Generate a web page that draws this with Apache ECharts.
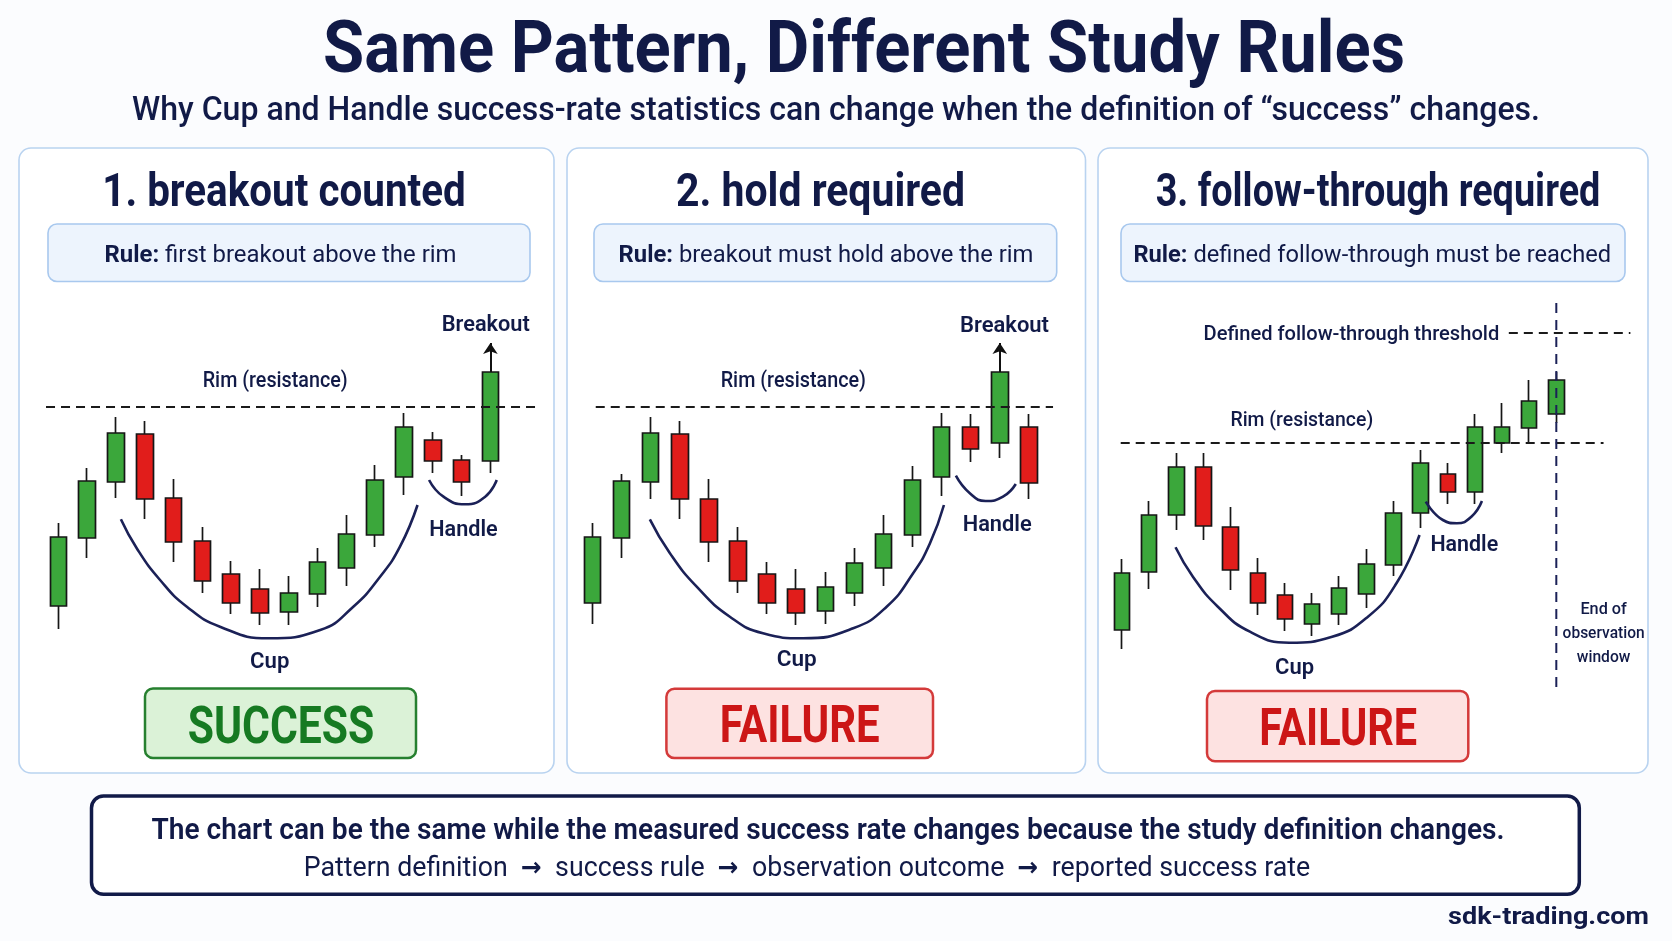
<!DOCTYPE html>
<html><head><meta charset="utf-8">
<script src="https://cdn.jsdelivr.net/npm/echarts@6/dist/echarts.min.js"></script>
<style>html,body{margin:0;padding:0;background:#fbfcfe;}#c{width:1672px;height:941px;}</style>
</head><body><div id="c"></div>
<script>
// ---------- DATA (price units) ----------
const days1 = ['d1','d2','d3','d4','d5','d6','d7','d8','d9','d10','d11','d12','d13','d14','d15','d16'];
const days2 = ['d1','d2','d3','d4','d5','d6','d7','d8','d9','d10','d11','d12','d13','d14','d15','d16'];
const days3 = ['d1','d2','d3','d4','d5','d6','d7','d8','d9','d10','d11','d12','d13','d14','d15','d16','d17'];
// [open, close, low, high]
const candles1 = [
  [34,103,11,117],[102,159,82,172],[158,207,142,223],[206,141,121,219],
  [142,98,78,161],[99,59,47,113],[66,37,26,79],[51,27,15,71],
  [28,47,15,64],[46,78,33,92],[72,106,54,125],[105,160,93,175],
  [163,213,145,227],[200,179,167,208],[180,158,144,185],[179,268,167,268]
];
const candles2 = [
  [37,103,16,117],[102,159,82,166],[158,207,141,223],[206,141,121,219],
  [141,98,78,161],[99,59,47,113],[66,37,26,78],[51,27,15,71],
  [29,53,16,68],[47,77,34,92],[72,106,54,125],[105,160,93,174],
  [163,213,144,227],[213,191,178,226],[197,268,182,268],[213,157,141,226]
];
const candles3 = [
  [10,67,-9,81],[68,125,51,139],[125,173,110,187],[173,114,100,187],
  [113,70,50,133],[67,37,25,82],[45,21,9,57],[16,36,4,47],
  [26,52,15,64],[46,76,32,91],[75,127,64,139],[127,177,112,190],
  [166,148,136,177],[148,213,136,226],[197,213,187,237],[212,239,198,260],
  [226,260,217,268]
];
const rimLevels = [233, 233, 197];
const thresholdLevel3 = 307;
const breakoutArrow1 = [15, 268, 297];   // [candle index, from, to]
const breakoutArrow2 = [14, 268, 297];
const windowEnd3 = [16, 337, -47];        // [candle index, top, bottom]
// cup & handle outlines, in [candle index, price]
const cup1 = [[2.17,120.7],[2.72,91.7],[3.53,60],[4.46,33.3],[5.61,13.3],[7.29,1.7],[9.09,10],[10.24,33.3],[11.17,63.3],[11.86,93.3],[12.47,135]];
const cup2 = [[1.97,120.7],[2.66,86.7],[3.58,53.3],[4.72,23.3],[5.86,6.7],[7.24,1.7],[8.96,11.7],[10.11,33.3],[11.02,66.7],[11.6,96.7],[12.08,135]];
const cup3 = [[1.97,92.7],[2.61,63.3],[3.53,33.3],[4.71,8.3],[6.16,-2.7],[7.74,3.3],[9.06,23.3],[10.11,56.7],[10.96,105]];
const handle1 = [[12.87,160],[13.37,143.3],[14.12,135.7],[14.82,143.3],[15.22,160]];
const handle2 = [[12.49,164.3],[12.97,146.7],[13.51,139],[14.11,143.3],[14.55,156]];
const handle3 = [[11.19,138.3],[11.82,120],[12.34,116.7],[12.87,123.3],[13.26,139]];

// ---------- LAYOUT ----------
const rimSpan = [[-0.43,16.55],[0.11,15.83],[-0.05,17.74]];
const thresholdSpan3 = [14.25,18.73];
const pad1 = ['p1','p2'], pad2 = ['p1'], pad3 = ['p1','p2','p3'];
const NAVY = '#111a47';
const FONT = "Roboto, 'Noto Sans', sans-serif";

const mctx = document.createElement('canvas').getContext('2d');
function measure(t, font){ mctx.font = font; return mctx.measureText(t).width; }
function T(str, cx, cy, size, weight, color, targetW, align){
  const font = weight + ' ' + size + 'px ' + FONT;
  const sx = targetW ? targetW / measure(str, font) : 1;
  align = align || 'center';
  return {type:'text', x:cx, y:cy, scaleX:sx, z:100, silent:true,
    style:{text:str, x:0, y:0, font:font, fill:color, textAlign:align, textVerticalAlign:'middle', align:align, verticalAlign:'middle'}};
}
// rich text: parts = [[text, styleKey or null]]
function RT(parts, cx, cy, targetW, baseFont, richFonts){
  let w = 0, txt = '';
  const rich = {};
  parts.forEach(p => {
    const f = p[1] ? richFonts[p[1]] : baseFont;
    w += measure(p[0], f);
    txt += p[1] ? '{' + p[1] + '|' + p[0] + '}' : p[0];
  });
  Object.keys(richFonts).forEach(k => { rich[k] = {font:richFonts[k], fill:NAVY}; });
  return {type:'text', x:cx, y:cy, scaleX:targetW / w, z:100, silent:true,
    style:{text:txt, x:0, y:0, font:baseFont, fill:NAVY, textAlign:'center', textVerticalAlign:'middle', align:'center', verticalAlign:'middle', rich:rich}};
}
function R(rest, cx, cy, targetW){
  const bf = '700 23px ' + FONT, rf = '400 23px ' + FONT;
  return RT([['Rule:', 'b'], [' ' + rest, null]], cx, cy, targetW, rf, {b: bf});
}
function box(x,y,w,h,r,fill,stroke,lw){
  return {type:'rect', z:0, silent:true, shape:{x:x,y:y,width:w,height:h,r:r}, style:{fill:fill, stroke:stroke, lineWidth:lw}};
}

const AR = '700 26px "DejaVu Sans", sans-serif';
const graphics = [
  box(19,148,535,625,12,'#ffffff','#b9d3f0',1.6),
  box(567,148,518.5,625,12,'#ffffff','#b9d3f0',1.6),
  box(1098,148,550,625,12,'#ffffff','#b9d3f0',1.6),
  box(48,224,482,57.5,9,'#edf4fd','#a8c8ee',1.6),
  box(594,224,462.7,57.5,9,'#edf4fd','#a8c8ee',1.6),
  box(1121,224,504,57.5,9,'#edf4fd','#a8c8ee',1.6),
  box(145,688.5,271,69.5,8,'#dbf2d7','#26802f',2.5),
  box(666.4,688.8,266.6,69.3,8,'#fde2e1','#d43a3a',2.5),
  box(1207,691,261.3,70.3,8,'#fde2e1','#d43a3a',2.5),
  box(91.5,796,1487.8,98.3,12,'#ffffff','#111a48',3.5),

  T('Same Pattern, Different Study Rules', 864, 54, 72, 700, NAVY, 1082),
  T('Why Cup and Handle success-rate statistics can change when the definition of \u201Csuccess\u201D changes.', 836, 111.7, 34, 500, NAVY, 1408),
  T('1. breakout counted', 284, 194.7, 47, 700, NAVY, 363.6),
  T('2. hold required', 820.5, 194.7, 47, 700, NAVY, 289),
  T('3. follow-through required', 1378, 194.7, 47, 700, NAVY, 444.7),
  R('first breakout above the rim', 280.5, 256, 352),
  R('breakout must hold above the rim', 826, 256, 414.8),
  R('defined follow-through must be reached', 1372.3, 256, 477.7),

  T('Breakout', 485.8, 325.5, 22, 600, NAVY, 88),
  T('Rim (resistance)', 275.2, 381.5, 22, 500, NAVY, 145),
  T('Handle', 463.5, 530.5, 22, 600, NAVY, 68.4),
  T('Cup', 269.7, 662, 22, 600, NAVY, 39.3),

  T('Breakout', 1004.5, 326, 22, 600, NAVY, 89),
  T('Rim (resistance)', 793.3, 381, 22, 500, NAVY, 145.3),
  T('Handle', 997.2, 525, 22, 600, NAVY, 69),
  T('Cup', 796.7, 660.5, 22, 600, NAVY, 40),

  T('Defined follow-through threshold', 1351.4, 335, 21, 500, NAVY, 295.7),
  T('Rim (resistance)', 1301.8, 420.3, 21, 500, NAVY, 142.8),
  T('Handle', 1464.3, 545, 22, 600, NAVY, 67.8),
  T('Cup', 1294.6, 668.5, 22, 600, NAVY, 39),
  T('End of', 1603.6, 610, 17, 500, NAVY, 46.4),
  T('observation', 1603.6, 634.2, 17, 500, NAVY, 82),
  T('window', 1603.6, 657.5, 17, 500, NAVY, 53.6),

  T('SUCCESS', 281, 730.3, 51, 700, '#167a22', 186.6),
  T('FAILURE', 799.7, 729.3, 51, 700, '#cc1616', 160),
  T('FAILURE', 1338.2, 732.6, 51, 700, '#cc1616', 158),

  T('The chart can be the same while the measured success rate changes because the study definition changes.', 828, 831.3, 29.5, 600, NAVY, 1353),
  RT([['Pattern definition  ', null], ['\u2192', 'a'], ['  success rule  ', null], ['\u2192', 'a'], ['  observation outcome  ', null], ['\u2192', 'a'], ['  reported success rate', null]],
     807, 868.8, 1006.6, '400 28px ' + FONT, {a: AR}),
  T('sdk-trading.com', 1649, 918, 23, 700, NAVY, 201, 'right')
];

const candleStyle = {color:'#3ba73b', color0:'#e11d1b', borderColor:'#161616', borderColor0:'#161616', borderWidth:1.7};
function candle(i, data, bw){
  return {type:'candlestick', xAxisIndex:i, yAxisIndex:i, data:data, barWidth:bw, itemStyle:candleStyle, silent:true, z:2};
}
function line(i, data, opts){
  return Object.assign({type:'line', xAxisIndex:3+i, yAxisIndex:i, data:data, symbol:'none', clip:false, silent:true, z:3}, opts);
}
const dashStyle = {color:'#1a1a1a', width:2, type:[9,6]};
const arcStyle = {color:'#1b2157', width:2.6};
function arrowMark(a){
  return {silent:true, symbol:['none','arrow'], symbolSize:11, label:{show:false},
    lineStyle:{color:'#111', width:2, type:'solid'},
    data:[[{coord:[a[0], a[1]]},{coord:[a[0], a[2]]}]]};
}

const series = [
  candle(0, candles1, 17), candle(1, candles2, 17), candle(2, candles3, 16),
  line(0, [[rimSpan[0][0], rimLevels[0]],[rimSpan[0][1], rimLevels[0]]], {lineStyle:dashStyle, markLine:arrowMark(breakoutArrow1)}),
  line(1, [[rimSpan[1][0], rimLevels[1]],[rimSpan[1][1], rimLevels[1]]], {lineStyle:dashStyle, markLine:arrowMark(breakoutArrow2)}),
  line(2, [[rimSpan[2][0], rimLevels[2]],[rimSpan[2][1], rimLevels[2]]], {lineStyle:dashStyle}),
  line(2, [[thresholdSpan3[0], thresholdLevel3],[thresholdSpan3[1], thresholdLevel3]], {lineStyle:dashStyle}),
  line(2, [[windowEnd3[0], windowEnd3[1]],[windowEnd3[0], windowEnd3[2]]], {lineStyle:{color:'#1b2157', width:2, type:[10,7]}}),
  line(0, cup1, {smooth:0.5, lineStyle:arcStyle}),
  line(1, cup2, {smooth:0.5, lineStyle:arcStyle}),
  line(2, cup3, {smooth:0.5, lineStyle:arcStyle}),
  line(0, handle1, {smooth:0.5, lineStyle:arcStyle}),
  line(1, handle2, {smooth:0.5, lineStyle:arcStyle}),
  line(2, handle3, {smooth:0.5, lineStyle:arcStyle})
];

const cats1 = days1.concat(pad1), cats2 = days2.concat(pad2), cats3 = days3.concat(pad3);
const step1 = 28.8, step2 = 29.09, step3 = 27.14;
const chart = echarts.init(document.getElementById('c'), null, {renderer:'canvas'});
chart.setOption({
  animation:false,
  backgroundColor:'#fbfcfe',
  grid:[
    {left:44, top:330, width:step1*cats1.length, height:330},
    {left:578, top:330, width:step2*cats2.length, height:330},
    {left:1108.5, top:300, width:step3*cats3.length, height:390}
  ],
  xAxis:[
    {type:'category', gridIndex:0, data:cats1, show:false},
    {type:'category', gridIndex:1, data:cats2, show:false},
    {type:'category', gridIndex:2, data:cats3, show:false},
    {type:'value', gridIndex:0, min:-0.5, max:cats1.length-0.5, show:false, splitLine:{show:false}},
    {type:'value', gridIndex:1, min:-0.5, max:cats2.length-0.5, show:false, splitLine:{show:false}},
    {type:'value', gridIndex:2, min:-0.5, max:cats3.length-0.5, show:false, splitLine:{show:false}}
  ],
  yAxis:[
    {type:'value', gridIndex:0, min:-20, max:310, show:false, splitLine:{show:false}},
    {type:'value', gridIndex:1, min:-20, max:310, show:false, splitLine:{show:false}},
    {type:'value', gridIndex:2, min:-50, max:340, show:false, splitLine:{show:false}}
  ],
  graphic:{elements:graphics},
  series:series
});
</script>
</body></html>
